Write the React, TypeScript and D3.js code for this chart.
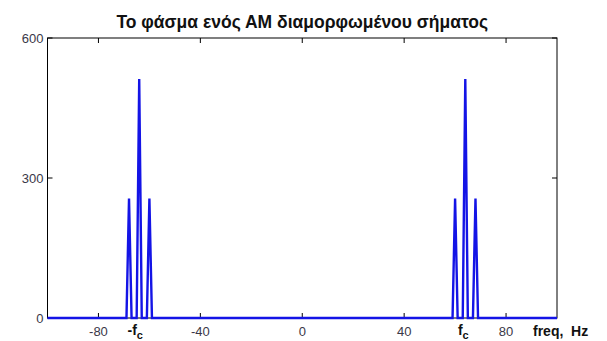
import { useEffect, useRef } from "react";
import * as d3 from "d3";

// spectrum of the AM signal: carrier at +-fc, sidebands at +-(fc +- fm)
const freqDomain = [-100, 100];
const peakFreqs = [-68, -64, -60, 60, 64, 68];
const peakMags = [256, 512, 256, 256, 512, 256];
const xTicks = [-80, -40, 0, 40, 80];
const yTicks = [0, 300, 600];
const carrierLabels = [
  { f: -64, text: "-f" },
  { f: 64, text: "f" },
];

export default function App() {
  const ref = useRef<SVGSVGElement | null>(null);

  useEffect(() => {
    const width = 607;
    const height = 341;
    const marginLeft = 47.5;
    const marginRight = 50;
    const marginTop = 38;
    const marginBottom = 23;

    const svg = d3.select(ref.current);
    svg.selectAll("*").remove();

    const x = d3.scaleLinear(freqDomain, [marginLeft, width - marginRight]);
    const y = d3.scaleLinear([0, 600], [height - marginBottom, marginTop]);

    svg.append("rect")
      .attr("width", width)
      .attr("height", height)
      .attr("fill", "white");

    // build the line: flat floor with narrow spikes at each bin
    const halfBin = 1.0;
    const pts: [number, number][] = [[freqDomain[0], 0]];
    peakFreqs.forEach((f, i) => {
      pts.push([f - halfBin, 0]);
      pts.push([f, peakMags[i]]);
      pts.push([f + halfBin, 0]);
    });
    pts.push([freqDomain[1], 0]);

    // box
    svg.append("rect")
      .attr("x", x(freqDomain[0]))
      .attr("y", y(600))
      .attr("width", x(freqDomain[1]) - x(freqDomain[0]))
      .attr("height", y(0) - y(600))
      .attr("fill", "none")
      .attr("stroke", "black")
      .attr("stroke-width", 1);

    // ticks, inward on every side
    const tickLen = 5;
    const ticks = svg.append("g").attr("stroke", "black").attr("stroke-width", 1);
    xTicks.forEach((t) => {
      ticks.append("line")
        .attr("x1", x(t)).attr("x2", x(t))
        .attr("y1", y(0)).attr("y2", y(0) - tickLen);
      ticks.append("line")
        .attr("x1", x(t)).attr("x2", x(t))
        .attr("y1", y(600)).attr("y2", y(600) + tickLen);
    });
    yTicks.forEach((t) => {
      ticks.append("line")
        .attr("x1", x(freqDomain[0])).attr("x2", x(freqDomain[0]) + tickLen)
        .attr("y1", y(t)).attr("y2", y(t));
      ticks.append("line")
        .attr("x1", x(freqDomain[1])).attr("x2", x(freqDomain[1]) - tickLen)
        .attr("y1", y(t)).attr("y2", y(t));
    });

    const line = d3.line<[number, number]>()
      .x((d) => x(d[0]))
      .y((d) => y(d[1]));

    svg.append("path")
      .datum(pts)
      .attr("d", line)
      .attr("fill", "none")
      .attr("stroke", "#1414e6")
      .attr("stroke-width", 2.4)
      .attr("stroke-linejoin", "miter");

    const font = "Arial, 'Liberation Sans', sans-serif";

    svg.append("g")
      .selectAll("text")
      .data(xTicks)
      .join("text")
      .attr("x", (d) => x(d))
      .attr("y", 336)
      .attr("text-anchor", "middle")
      .attr("font-family", font)
      .attr("font-size", 13)
      .attr("fill", "#3a3848")
      .text((d) => d);

    svg.append("g")
      .selectAll("text")
      .data(yTicks)
      .join("text")
      .attr("x", marginLeft - 4)
      .attr("y", (d) => y(d))
      .attr("dy", "0.35em")
      .attr("text-anchor", "end")
      .attr("font-family", font)
      .attr("font-size", 13)
      .attr("fill", "#3a3848")
      .text((d) => d);

    carrierLabels.forEach((c) => {
      const t = svg.append("text")
        .attr("x", x(c.f) - (c.text.length > 1 ? 4 : 2))
        .attr("y", 335)
        .attr("text-anchor", "middle")
        .attr("font-family", font)
        .attr("font-size", 14)
        .attr("font-weight", "bold")
        .attr("fill", "#111");
      t.append("tspan").text(c.text);
      t.append("tspan").attr("dy", 4).attr("font-size", 11).text("c");
    });

    svg.append("text")
      .attr("x", 533)
      .attr("y", 336)
      .attr("font-family", font)
      .attr("font-size", 14)
      .attr("font-weight", "bold")
      .attr("fill", "#111")
      .attr("xml:space", "preserve")
      .text("freq,  Hz");

    svg.append("text")
      .attr("x", (x(freqDomain[0]) + x(freqDomain[1])) / 2)
      .attr("y", 28)
      .attr("text-anchor", "middle")
      .attr("font-family", font)
      .attr("font-size", 17.5)
      .attr("font-weight", "bold")
      .attr("fill", "#111")
      .text("Το φάσμα ενός ΑΜ διαμορφωμένου σήματος");
  }, []);

  return (
    <svg
      ref={ref}
      width={607}
      height={341}
      style={{ position: "absolute", left: 0, top: 0 }}
    />
  );
}
